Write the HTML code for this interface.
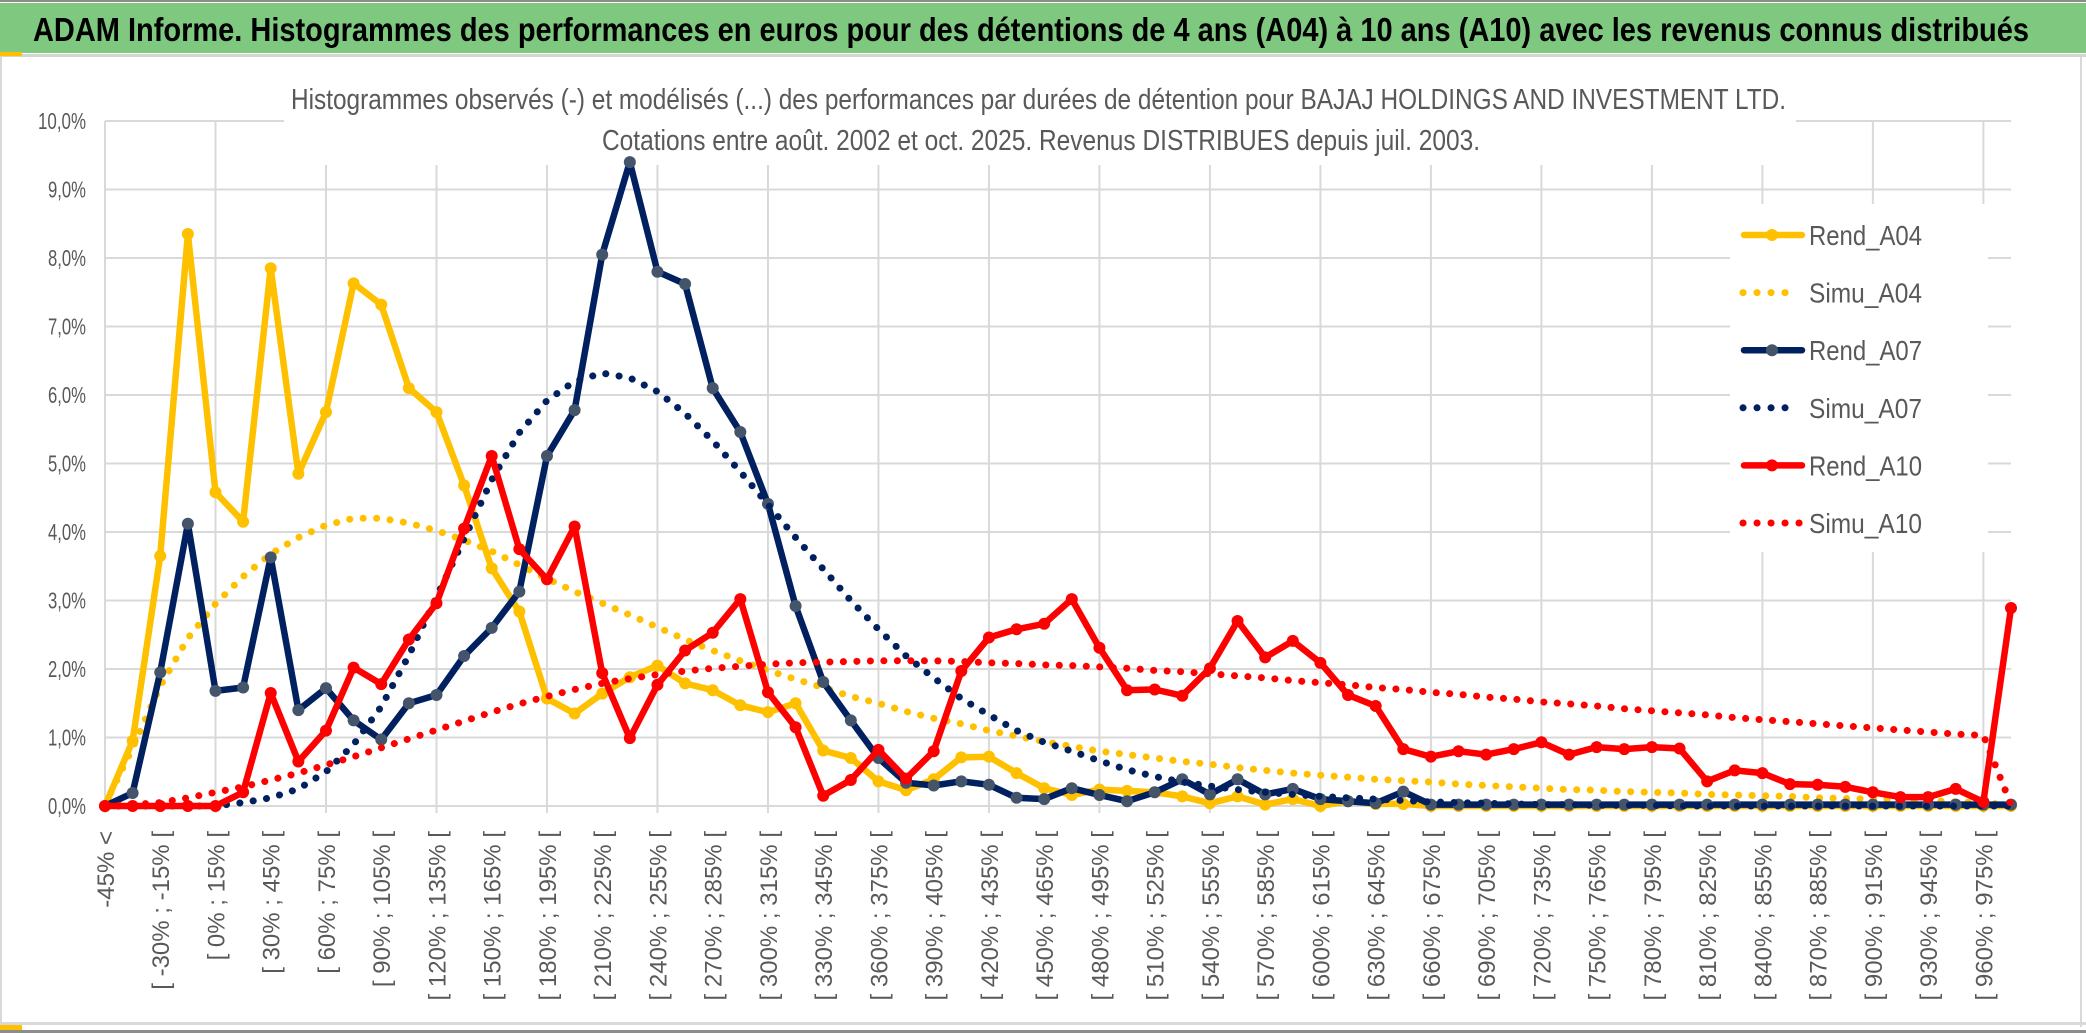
<!DOCTYPE html>
<html lang="fr">
<head>
<meta charset="utf-8">
<title>ADAM Informe - Histogrammes</title>
<style>
  html, body { margin: 0; padding: 0; background: #ffffff; }
  body { width: 2086px; height: 1033px; overflow: hidden; }
  svg { display: block; font-family: "Liberation Sans", "DejaVu Sans", sans-serif; }
</style>
</head>
<body>
<svg id="chart" width="2086" height="1033" viewBox="0 0 2086 1033" xmlns="http://www.w3.org/2000/svg">
  <rect x="0" y="0" width="2086" height="1033" fill="#ffffff"/>
  <rect x="0" y="0" width="2086" height="2" fill="#8c8c8c"/>
  <rect x="0" y="3" width="2086" height="50" fill="#7ec87f"/>
  <text x="33" y="41" font-size="33" font-weight="bold" fill="#000000" textLength="1996" lengthAdjust="spacingAndGlyphs">ADAM Informe. Histogrammes des performances en euros pour des détentions de 4 ans (A04) à 10 ans (A10) avec les revenus connus distribués</text>
  <rect x="0" y="54" width="2086" height="3" fill="#d4d4d4"/>
  <rect x="0" y="52" width="22" height="4" fill="#ffc000"/>
  <rect x="0" y="57" width="2" height="970" fill="#d9d9d9"/>
  <rect x="2080" y="57" width="2" height="970" fill="#d9d9d9"/>
  <rect x="0" y="1022" width="2086" height="3" fill="#d9d9d9"/>
  <rect x="0" y="1025" width="22" height="5" fill="#ffc000"/>
  <rect x="0" y="1030" width="2086" height="3" fill="#8c8c8c"/>

  <g id="grid"></g>
  <rect x="284" y="58" width="1512" height="107" fill="#ffffff"/>
  <rect x="1730" y="204" width="258" height="348" fill="#ffffff"/>
  <g id="yaxis"></g>
  <g id="xaxis"></g>
  <g id="series"></g>

  <text x="291" y="109" font-size="29" fill="#595959" textLength="1495" lengthAdjust="spacingAndGlyphs">Histogrammes observés (-) et modélisés (...) des performances par durées de détention pour BAJAJ HOLDINGS AND INVESTMENT LTD.</text>
  <text x="602" y="150" font-size="29" fill="#595959" textLength="878" lengthAdjust="spacingAndGlyphs">Cotations entre août. 2002 et oct. 2025. Revenus DISTRIBUES depuis juil. 2003.</text>

  <g id="legend"></g>
</svg>

<script>
// ---------- DATA ----------
const categories = [
  "-45% <","[ -45% ; -30% [","[ -30% ; -15% [","[ -15% ; 0% [","[ 0% ; 15% [","[ 15% ; 30% [","[ 30% ; 45% [","[ 45% ; 60% [",
  "[ 60% ; 75% [","[ 75% ; 90% [","[ 90% ; 105% [","[ 105% ; 120% [","[ 120% ; 135% [","[ 135% ; 150% [","[ 150% ; 165% [","[ 165% ; 180% [",
  "[ 180% ; 195% [","[ 195% ; 210% [","[ 210% ; 225% [","[ 225% ; 240% [","[ 240% ; 255% [","[ 255% ; 270% [","[ 270% ; 285% [","[ 285% ; 300% [",
  "[ 300% ; 315% [","[ 315% ; 330% [","[ 330% ; 345% [","[ 345% ; 360% [","[ 360% ; 375% [","[ 375% ; 390% [","[ 390% ; 405% [","[ 405% ; 420% [",
  "[ 420% ; 435% [","[ 435% ; 450% [","[ 450% ; 465% [","[ 465% ; 480% [","[ 480% ; 495% [","[ 495% ; 510% [","[ 510% ; 525% [","[ 525% ; 540% [",
  "[ 540% ; 555% [","[ 555% ; 570% [","[ 570% ; 585% [","[ 585% ; 600% [","[ 600% ; 615% [","[ 615% ; 630% [","[ 630% ; 645% [","[ 645% ; 660% [",
  "[ 660% ; 675% [","[ 675% ; 690% [","[ 690% ; 705% [","[ 705% ; 720% [","[ 720% ; 735% [","[ 735% ; 750% [","[ 750% ; 765% [","[ 765% ; 780% [",
  "[ 780% ; 795% [","[ 795% ; 810% [","[ 810% ; 825% [","[ 825% ; 840% [","[ 840% ; 855% [","[ 855% ; 870% [","[ 870% ; 885% [","[ 885% ; 900% [",
  "[ 900% ; 915% [","[ 915% ; 930% [","[ 930% ; 945% [","[ 945% ; 960% [","[ 960% ; 975% [","> 975%"
];
const yTicks = [0,1,2,3,4,5,6,7,8,9,10];
const yTickLabels = ["0,0%","1,0%","2,0%","3,0%","4,0%","5,0%","6,0%","7,0%","8,0%","9,0%","10,0%"];

const rendA04 = [0.0,0.95,3.65,8.35,4.58,4.15,7.85,4.85,5.75,7.63,7.32,6.1,5.75,4.68,3.47,2.84,1.57,1.35,1.64,1.88,2.05,1.79,1.69,1.47,1.37,1.5,0.81,0.7,0.36,0.23,0.39,0.71,0.72,0.48,0.26,0.16,0.24,0.22,0.2,0.14,0.04,0.14,0.02,0.1,0.0,0.07,0.03,0.03,0,0,0,0,0,0,0,0,0,0,0,0,0,0,0,0,0,0,0,0,0,0];
const simuA04 = [0.02,0.85,1.75,2.45,2.95,3.35,3.68,3.92,4.1,4.2,4.2,4.13,4.02,3.88,3.72,3.52,3.32,3.13,2.96,2.79,2.61,2.43,2.27,2.12,1.98,1.85,1.73,1.6,1.5,1.38,1.28,1.2,1.1,1.02,0.94,0.87,0.8,0.75,0.7,0.65,0.61,0.56,0.52,0.48,0.45,0.42,0.39,0.37,0.35,0.32,0.3,0.28,0.26,0.24,0.23,0.21,0.2,0.19,0.17,0.16,0.15,0.14,0.12,0.11,0.1,0.09,0.08,0.06,0.05,0.01];
const rendA07 = [0.0,0.19,1.95,4.12,1.68,1.73,3.63,1.4,1.72,1.25,0.97,1.5,1.62,2.19,2.6,3.13,5.11,5.78,8.05,9.4,7.8,7.62,6.1,5.46,4.41,2.92,1.81,1.25,0.7,0.34,0.3,0.36,0.31,0.12,0.1,0.26,0.16,0.07,0.2,0.39,0.17,0.39,0.17,0.25,0.1,0.07,0.04,0.21,0.02,0.02,0.02,0.02,0.02,0.02,0.02,0.02,0.02,0.02,0.02,0.02,0.02,0.02,0.02,0.02,0.02,0.02,0.02,0.02,0.02,0.02];
const simuA07 = [0,0,0,0,0,0.05,0.12,0.25,0.5,0.9,1.45,2.2,3.05,3.9,4.76,5.45,5.92,6.2,6.32,6.25,6.05,5.73,5.33,4.88,4.4,3.92,3.46,3.0,2.58,2.19,1.87,1.57,1.33,1.1,0.93,0.8,0.66,0.53,0.43,0.35,0.29,0.24,0.2,0.17,0.14,0.12,0.1,0.08,0.06,0.05,0.04,0.03,0.02,0.02,0.01,0.01,0.01,0,0,0,0,0,0,0,0,0,0,0,0,0];
const rendA10 = [0,0,0,0,0,0.2,1.65,0.65,1.1,2.02,1.78,2.43,2.96,4.05,5.11,3.75,3.31,4.08,1.94,0.99,1.77,2.27,2.53,3.02,1.66,1.15,0.15,0.38,0.82,0.4,0.8,1.97,2.46,2.58,2.66,3.02,2.31,1.69,1.7,1.61,2.01,2.7,2.17,2.41,2.09,1.62,1.46,0.83,0.72,0.8,0.75,0.83,0.93,0.75,0.86,0.83,0.86,0.84,0.36,0.52,0.48,0.32,0.31,0.28,0.2,0.13,0.13,0.25,0.06,2.89];
const simuA10 = [0.0,0.02,0.05,0.12,0.2,0.28,0.38,0.48,0.6,0.72,0.85,0.98,1.11,1.24,1.37,1.49,1.6,1.7,1.79,1.86,1.92,1.97,2.01,2.04,2.07,2.09,2.1,2.11,2.12,2.12,2.12,2.11,2.09,2.08,2.06,2.05,2.03,2.01,1.98,1.96,1.93,1.9,1.87,1.83,1.8,1.77,1.73,1.7,1.66,1.63,1.59,1.56,1.52,1.49,1.46,1.42,1.39,1.36,1.33,1.29,1.26,1.23,1.2,1.17,1.14,1.11,1.08,1.05,1.03,0.02];

const seriesNames = ["Rend_A04","Simu_A04","Rend_A07","Simu_A07","Rend_A10","Simu_A10"];

// ---------- SCALES ----------
const NS = "http://www.w3.org/2000/svg";
const X0 = 105, X1 = 2011, Y0 = 806, Y10 = 121;
function xScale(i) { return X0 + i * (X1 - X0) / (categories.length - 1); }
function yScale(v) { return Y0 - v * (Y0 - Y10) / 10; }
function mk(tag, attrs, parent) {
  const el = document.createElementNS(NS, tag);
  for (const k in attrs) el.setAttribute(k, attrs[k]);
  parent.appendChild(el);
  return el;
}

// ---------- GRID ----------
const grid = document.getElementById("grid");
yTicks.forEach(function (t) {
  const l = mk("line", {x1: X0, x2: X1, y1: yScale(t), y2: yScale(t), stroke: "#d9d9d9", "stroke-width": 2}, grid);
  
  
});
for (let i = 0; i < categories.length; i += 4) {
  const l = mk("line", {x1: xScale(i), x2: xScale(i), y1: Y10, y2: Y0 + 7, stroke: "#d9d9d9", "stroke-width": 2}, grid);
  
  
}

// ---------- Y AXIS ----------
const yaxis = document.getElementById("yaxis");
yTicks.forEach(function (t, k) {
  const lab = yTickLabels[k];
  const tx = mk("text", {x: 86, y: yScale(t) + 8, "text-anchor": "end", "font-size": 23, fill: "#595959",
    textLength: lab.length === 5 ? 48 : 38, lengthAdjust: "spacingAndGlyphs"}, yaxis);
  tx.textContent = lab;
  
  
});

// ---------- X AXIS ----------
const xaxis = document.getElementById("xaxis");
for (let i = 0; i < categories.length; i += 2) {
  const x = xScale(i) + 9, y = 831;
  const tx = mk("text", {x: x, y: y, "text-anchor": "end", "font-size": 24, fill: "#595959",
    transform: "rotate(-90 " + x + " " + y + ")"}, xaxis);
  tx.textContent = categories[i];
  
  
}

// ---------- SERIES ----------
const seriesLayer = document.getElementById("series");
function pts(arr) { return arr.map(function (v, i) { return xScale(i).toFixed(1) + "," + yScale(v).toFixed(1); }).join(" "); }

function drawSolid(arr, color, markerColor, name) {
  const g = mk("g", {}, seriesLayer);
  
  
  const pl = mk("polyline", {points: pts(arr), fill: "none", stroke: color, "stroke-width": 6.5, "stroke-linejoin": "round", "stroke-linecap": "round"}, g);
  
  
  arr.forEach(function (v, i) {
    const c = mk("circle", {cx: xScale(i), cy: yScale(v), r: 6, fill: markerColor}, g);
    
    
  });
}
function drawDotted(arr, color, name) {
  const pl = mk("polyline", {points: pts(arr), fill: "none", stroke: color, "stroke-width": 7,
    "stroke-dasharray": "0.1 13.4", "stroke-linecap": "round", "stroke-linejoin": "round"}, seriesLayer);
  
  
}

drawSolid(rendA04, "#ffc000", "#ffc000", "rend-a04-series");
drawDotted(simuA04, "#ffc000", "simu-a04-series");
drawSolid(rendA07, "#002060", "#44546a", "rend-a07-series");
drawDotted(simuA07, "#002060", "simu-a07-series");
drawSolid(rendA10, "#ff0000", "#ff0000", "rend-a10-series");
drawDotted(simuA10, "#ff0000", "simu-a10-series");

// ---------- LEGEND ----------
const legend = document.getElementById("legend");
const legendColors = ["#ffc000","#ffc000","#002060","#002060","#ff0000","#ff0000"];
const legendMarkers = ["#ffc000",null,"#44546a",null,"#ff0000",null];
seriesNames.forEach(function (nm, k) {
  const cy = 235 + k * 57.6;
  const g = mk("g", {}, legend);
  
  
  if (legendMarkers[k]) {
    mk("line", {x1: 1744, x2: 1802, y1: cy, y2: cy, stroke: legendColors[k], "stroke-width": 6.5, "stroke-linecap": "round"}, g);
    mk("circle", {cx: 1772, cy: cy, r: 6, fill: legendMarkers[k]}, g);
  } else {
    const x2 = (k === 5) ? 1801 : 1791;
    mk("line", {x1: 1743, x2: x2, y1: cy, y2: cy, stroke: legendColors[k], "stroke-width": 7,
      "stroke-dasharray": "0.1 13.9", "stroke-linecap": "round"}, g);
  }
  const tx = mk("text", {x: 1809, y: cy + 10, "font-size": 28, fill: "#595959", textLength: 113, lengthAdjust: "spacingAndGlyphs"}, g);
  tx.textContent = nm;
  
  
});
</script>
</body>
</html>
